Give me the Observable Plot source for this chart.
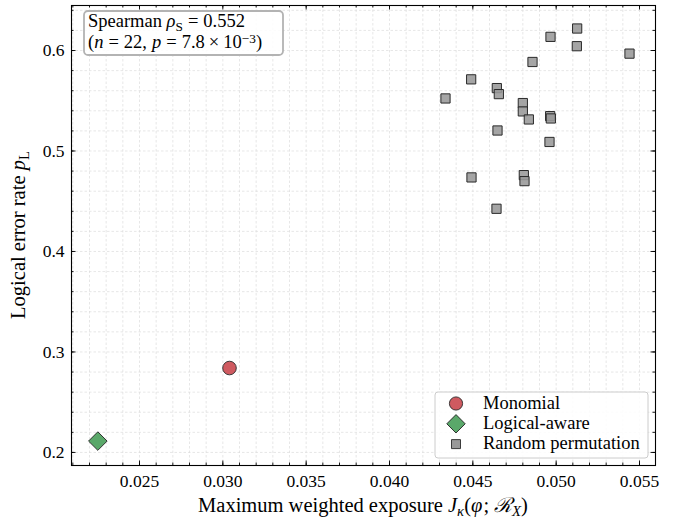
<!DOCTYPE html>
<html><head><meta charset="utf-8">
<script src="https://cdn.jsdelivr.net/npm/d3@7"></script>
<script src="https://cdn.jsdelivr.net/npm/@observablehq/plot@0.6"></script>
<style>body{margin:0;background:#fff} svg{display:block}</style>
</head><body><div id="chart"></div>
<script>
// ---- data ----
const seriesNames = ["Monomial", "Logical-aware", "Random permutation"];
const monomialX = [0.0304];
const monomialY = [0.284];
const logicalX = [0.0225];
const logicalY = [0.2113];
const randomX = [0.05126, 0.04966, 0.05124, 0.0544, 0.04858, 0.04490, 0.04644, 0.04656, 0.04336, 0.0480,
                 0.0480, 0.04836, 0.04964, 0.04968, 0.04648, 0.0496, 0.04492, 0.04806, 0.0481, 0.04642];
const randomY = [0.6219, 0.6136, 0.6043, 0.5969, 0.5886, 0.5713, 0.5626, 0.5566, 0.5523, 0.5477,
                 0.5394, 0.5314, 0.5347, 0.5324, 0.5204, 0.5090, 0.4737, 0.4760, 0.4700, 0.4425];
const xTicks = [0.025, 0.030, 0.035, 0.040, 0.045, 0.050, 0.055];
const yTicks = [0.2, 0.3, 0.4, 0.5, 0.6];
const xMinor = d3.range(21, 56).map(d => d / 1000);
const yMinor = d3.range(10, 33).map(d => d / 50);

// ---- styles ----
const W = 686, H = 518;
const mL = 71, mR = 31, mT = 5, mB = 53;
const plotH = H - mT - mB;
const plotW = W - mL - mR;
const FONT = "'Liberation Serif', 'Times New Roman', serif";
const FS = 17.5;      // tick labels
const TFS = 18.5;     // legend / annotation
const LFS = 20.5;     // axis labels
const colors = {Monomial: "#cf5a60", "Logical-aware": "#5aa86a", "Random permutation": "#999999"};
const edge = "#2a2a2a";

const toRows = (xs, ys) => xs.map((x, i) => ({x, y: ys[i]}));
const mono = toRows(monomialX, monomialY);
const logi = toRows(logicalX, logicalY);
const rand = toRows(randomX, randomY);

const majLen = 4.5, minLen = 2.5;
const tickStyle = {stroke: "#000", strokeWidth: 0.9};

const chart = Plot.plot({
  width: W, height: H,
  marginLeft: mL, marginRight: mR, marginTop: mT, marginBottom: mB,
  style: {fontFamily: FONT, fontSize: FS + "px", color: "#000", background: "#fff"},
  x: {domain: [0.02092, 0.05596]},
  y: {domain: [0.187, 0.6448]},
  marks: [
    Plot.gridX(xMinor, {stroke: "#dcdcdc", strokeOpacity: 1, strokeWidth: 0.7, strokeDasharray: "2.5,2"}),
    Plot.gridY(yMinor, {stroke: "#dcdcdc", strokeOpacity: 1, strokeWidth: 0.7, strokeDasharray: "2.5,2"}),
    // inward ticks on all four sides
    Plot.tickX(xMinor, {x: d => d, insetTop: plotH - minLen, ...tickStyle}),
    Plot.tickX(xMinor, {x: d => d, insetBottom: plotH - minLen, ...tickStyle}),
    Plot.tickX(xTicks, {x: d => d, insetTop: plotH - majLen, ...tickStyle}),
    Plot.tickX(xTicks, {x: d => d, insetBottom: plotH - majLen, ...tickStyle}),
    Plot.tickY(yMinor, {y: d => d, insetRight: plotW - minLen, ...tickStyle}),
    Plot.tickY(yMinor, {y: d => d, insetLeft: plotW - minLen, ...tickStyle}),
    Plot.tickY(yTicks, {y: d => d, insetRight: plotW - majLen, ...tickStyle}),
    Plot.tickY(yTicks, {y: d => d, insetLeft: plotW - majLen, ...tickStyle}),
    Plot.axisX(xTicks, {anchor: "bottom", tickSize: 0, tickPadding: 9, tickFormat: d3.format(".3f"), label: null, fontSize: FS}),
    Plot.axisY(yTicks, {anchor: "left", tickSize: 0, tickPadding: 7, tickFormat: d3.format(".1f"), label: null, fontSize: FS}),
    Plot.dot(rand, {x: "x", y: "y", symbol: "square", r: 5.2, fill: colors["Random permutation"], fillOpacity: 0.88, stroke: edge, strokeWidth: 1}),
    Plot.dot(mono, {x: "x", y: "y", symbol: "circle", r: 6.8, fill: colors.Monomial, stroke: edge, strokeWidth: 0.9}),
    Plot.dot(logi, {x: "x", y: "y", symbol: "square", r: 7.4, rotate: 45, fill: colors["Logical-aware"], stroke: edge, strokeWidth: 0.9}),
    Plot.frame({stroke: "#000", strokeWidth: 1.1})
  ]
});
document.getElementById("chart").appendChild(chart);

// ---- text with math formatting ----
const svg = d3.select(chart);
function mathText(g, parts) {
  parts.forEach(p => {
    const t = g.append("tspan").text(p.t);
    if (p.i) t.attr("font-style", "italic");
    if (p.small) t.attr("font-size", "0.72em");
    if (p.dy) t.attr("dy", p.dy);
    if (p.dx) t.attr("dx", p.dx);
  });
}

// x label
const xl = svg.append("text").attr("x", mL + plotW / 2).attr("y", 512)
  .attr("text-anchor", "middle").attr("font-family", FONT).attr("font-size", LFS).attr("fill", "#000");
mathText(xl, [{t: "Maximum weighted exposure "}, {t: "J", i: 1}, {t: "κ", i: 1, small: 1, dy: 4},
  {t: "(", dy: -4}, {t: "φ", i: 1}, {t: ";", dx: 1}, {t: "ℛ", i: 1, dx: 5}, {t: "X", i: 1, small: 1, dy: 4}, {t: ")", dy: -4}]);

// y label
const yl = svg.append("text").attr("transform", `translate(25,${mT + plotH / 2}) rotate(-90)`)
  .attr("text-anchor", "middle").attr("font-family", FONT).attr("font-size", LFS).attr("fill", "#000");
mathText(yl, [{t: "Logical error rate "}, {t: "p", i: 1}, {t: "L", small: 1, dy: 4}]);

// annotation box
const ann = svg.append("g").attr("text-anchor", "start");
ann.append("rect").attr("x", 84).attr("y", 11).attr("width", 199).attr("height", 44).attr("rx", 4)
  .attr("fill", "#fff").attr("fill-opacity", 0.85).attr("stroke", "#b3b3b3").attr("stroke-width", 1.8);
const a1 = ann.append("text").attr("x", 88).attr("y", 27).attr("font-family", FONT).attr("font-size", TFS).attr("fill", "#000");
mathText(a1, [{t: "Spearman "}, {t: "ρ", i: 1}, {t: "S", small: 1, dy: 4}, {t: "=", dy: -4, dx: 5}, {t: "0.552", dx: 5}]);
const a2 = ann.append("text").attr("x", 88).attr("y", 48).attr("font-family", FONT).attr("font-size", TFS).attr("fill", "#000");
mathText(a2, [{t: "("}, {t: "n", i: 1}, {t: "=", dx: 5}, {t: "22,", dx: 5}, {t: "p", i: 1, dx: 5},
  {t: "=", dx: 5}, {t: "7.8", dx: 5}, {t: "×", dx: 4}, {t: "10", dx: 4}, {t: "−3", small: 1, dy: -5.5}, {t: ")", dy: 5.5}]);

// legend
const leg = svg.append("g").attr("text-anchor", "start");
leg.append("rect").attr("x", 435).attr("y", 392).attr("width", 213).attr("height", 66).attr("rx", 3)
  .attr("fill", "#fff").attr("fill-opacity", 0.85).attr("stroke", "#cccccc").attr("stroke-width", 1);
const legRows = [
  {name: seriesNames[0], sym: d3.symbolCircle, size: Math.PI * 6.6 * 6.6, rot: 0},
  {name: seriesNames[1], sym: d3.symbolSquare, size: 13 * 13, rot: 45},
  {name: seriesNames[2], sym: d3.symbolSquare, size: 9 * 9, rot: 0}
];
legRows.forEach((r, i) => {
  const cy = 403.5 + i * 20.3;
  leg.append("path").attr("d", d3.symbol(r.sym, r.size)())
    .attr("transform", `translate(456,${cy}) rotate(${r.rot})`)
    .attr("fill", colors[r.name]).attr("stroke", edge).attr("stroke-width", 0.9);
  leg.append("text").attr("x", 483).attr("y", cy + 5).attr("font-family", FONT).attr("font-size", TFS)
    .attr("fill", "#000").text(r.name);
});
</script>
</body></html>
